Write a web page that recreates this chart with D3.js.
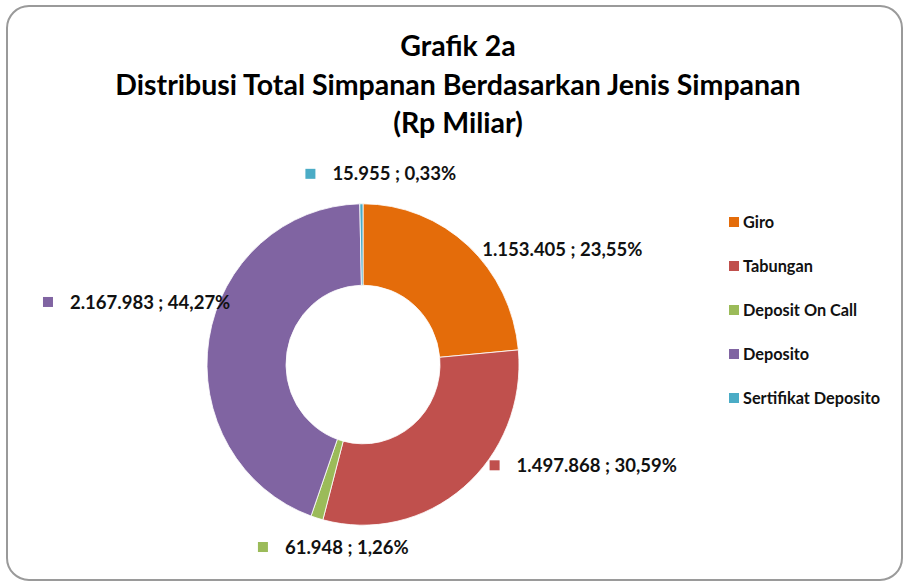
<!DOCTYPE html>
<html>
<head>
<meta charset="utf-8">
<script src="https://cdn.jsdelivr.net/npm/d3@7"></script>
<style>
  body { margin: 0; background: #fff; }
  svg { display: block; font-family: Lato, "Open Sans", sans-serif; }
</style>
</head>
<body>
<svg id="chart" width="903" height="582"></svg>
<script>
// data
const categories = ["Giro", "Tabungan", "Deposit On Call", "Deposito", "Sertifikat Deposito"];
const values = [1153405, 1497868, 61948, 2167983, 15955];
const valueLabels = ["1.153.405", "1.497.868", "61.948", "2.167.983", "15.955"];
const percentLabels = ["23,55%", "30,59%", "1,26%", "44,27%", "0,33%"];
const colors = ["#E46C0A", "#C0504D", "#9BBB59", "#8064A2", "#4BACC6"];
const titleLines = ["Grafik 2a", "Distribusi Total Simpanan Berdasarkan Jenis Simpanan", "(Rp Miliar)"];

const svg = d3.select("#chart");
const width = +svg.attr("width");
const height = +svg.attr("height");

// chart frame
svg.append("rect")
  .attr("x", 7).attr("y", 6)
  .attr("width", 895).attr("height", 574)
  .attr("rx", 22).attr("ry", 22)
  .attr("fill", "#fff")
  .attr("stroke", "#9a9a9a")
  .attr("stroke-width", 2);

// title
svg.append("g")
  .selectAll("text")
  .data(titleLines)
  .enter()
  .append("text")
  .attr("x", 458)
  .attr("y", (d, i) => 56 + i * 38.5)
  .attr("text-anchor", "middle")
  .attr("font-size", 28.5)
  .attr("font-weight", "bold")
  .attr("fill", "#000")
  .text(d => d);

// donut
const cx = 363, cy = 364.5;
const outerR = 156, innerR = 77, yStretch = 1.03;

const pie = d3.pie().sort(null).value(d => d.value);
const arc = d3.arc().innerRadius(innerR).outerRadius(outerR);

const slices = pie(categories.map((c, i) => ({
  name: c, value: values[i], color: colors[i],
  label: valueLabels[i] + " ; " + percentLabels[i]
})));

// label placement: anchor on outer edge at mid angle, then nudged like Excel's best fit
const labelNudge = [[-13, 4], [26, -22], [-59, 29], [-166, -37], [-56, -30]];
const markerSize = 10, markerGap = 17;

const labelG = svg.append("g");
const pieG = svg.append("g")
  .attr("transform", `translate(${cx},${cy}) scale(1,${yStretch})`);
const textG = svg.append("g");

pieG.selectAll("path")
  .data(slices)
  .enter()
  .append("path")
  .attr("d", arc)
  .attr("fill", d => d.data.color)
  .attr("stroke", "#fff")
  .attr("stroke-width", 0.8);

slices.forEach((d, i) => {
  const mid = (d.startAngle + d.endAngle) / 2;
  const ax = cx + Math.sin(mid) * outerR;
  const ay = cy - Math.cos(mid) * outerR * yStretch;
  const mx = ax + labelNudge[i][0];
  const my = ay + labelNudge[i][1];
  labelG.append("rect")
    .attr("x", mx)
    .attr("y", my - markerSize / 2)
    .attr("width", markerSize)
    .attr("height", markerSize)
    .attr("fill", d.data.color);
  textG.append("text")
    .attr("x", mx + markerSize + markerGap)
    .attr("y", my)
    .attr("dy", "0.36em")
    .attr("font-size", 18.5)
    .attr("font-weight", "bold")
    .attr("fill", "#111")
    .text(d.data.label);
});

// legend
const legend = svg.append("g")
  .selectAll("g")
  .data(categories)
  .enter()
  .append("g")
  .attr("transform", (d, i) => `translate(729,${222 + i * 44})`);

legend.append("rect")
  .attr("x", 0).attr("y", -5)
  .attr("width", 10).attr("height", 10)
  .attr("fill", (d, i) => colors[i]);

legend.append("text")
  .attr("x", 14)
  .attr("dy", "0.36em")
  .attr("font-size", 16.3)
  .attr("font-weight", "bold")
  .attr("fill", "#111")
  .text(d => d);
</script>
</body>
</html>
